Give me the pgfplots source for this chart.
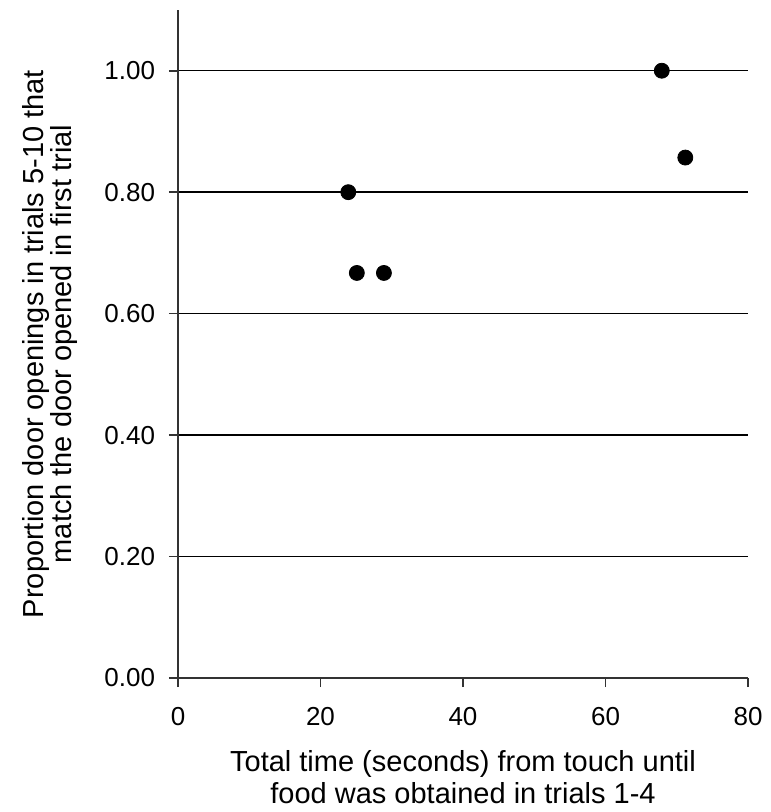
\documentclass[border=0pt]{standalone}
\usepackage{fontspec}
\setmainfont{Liberation Sans}
\usepackage{pgfplots}
\pgfplotsset{compat=1.18}

\begin{document}
\begin{tikzpicture}
\begin{axis}[
  scale only axis,
  width=285pt, height=334pt,
  xmin=0, xmax=80, ymin=0, ymax=1.10,
  axis x line=bottom, axis y line=left,
  axis line style={-, line width=0.8pt, black!80},
  xtick={0,20,40,60,80},
  ytick={0,0.2,0.4,0.6,0.8,1.0},
  tick align=outside,
  major tick length=4.5pt,
  tick style={line width=0.8pt, black!80},
  /pgf/number format/assume math mode=true,
  ticklabel style={font=\fontsize{13}{15}\selectfont, inner sep=0pt},
  xticklabel style={yshift=-10pt},
  yticklabel style={xshift=-6.8pt, /pgf/number format/.cd, fixed, fixed zerofill, precision=2},
  ymajorgrids,
  grid style={line width=0.7pt, black},
  xlabel={Total time (seconds) from touch until\\food was obtained in trials 1-4},
  ylabel={Proportion door openings in trials 5-10 that\\match the door opened in first trial},
  xlabel style={font=\fontsize{14.5}{16.2}\selectfont, align=center, inner sep=0pt,
    at={(axis description cs:0.5,-0.108)}, anchor=north},
  ylabel style={font=\fontsize{14.5}{14.2}\selectfont, align=center, inner sep=0pt,
    at={(axis description cs:-0.1754,0.5)}, anchor=south},
  clip=false,
]
\addplot[only marks, mark=*, mark size=3.75pt, black] coordinates {
  (23.9,0.800) (25.1,0.667) (28.9,0.667) (67.9,1.000) (71.2,0.857)
};
\end{axis}
% keep the reference's margins round the axis
\pgfresetboundingbox
\path[use as bounding box] ([xshift=-89pt,yshift=-67pt]current axis.south west)
  rectangle ([xshift=11pt,yshift=5pt]current axis.north east);
\end{tikzpicture}
\end{document}
